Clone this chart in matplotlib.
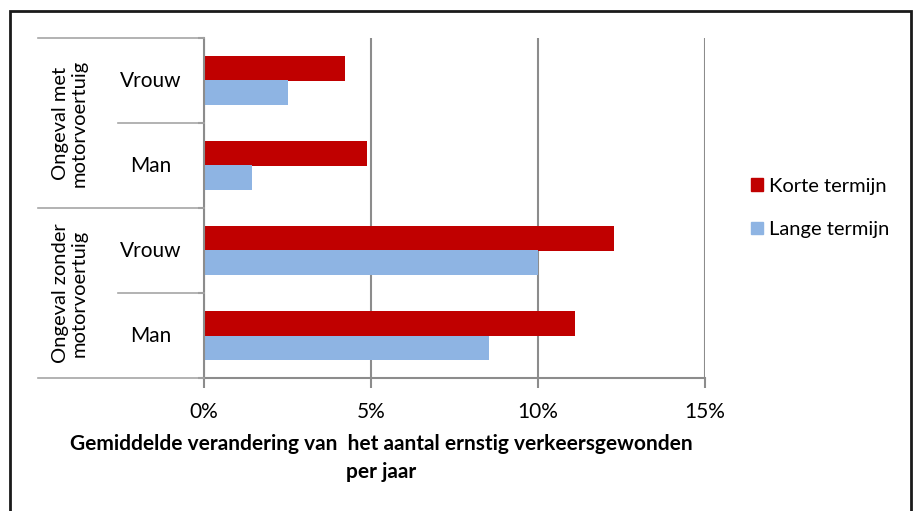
import matplotlib.pyplot as plt
import matplotlib.transforms as mtransforms
from matplotlib.lines import Line2D
from matplotlib.patches import Patch, Rectangle
import numpy as np

plt.rcParams['font.family'] = ['Lato', 'DejaVu Sans']

# categories from bottom to top
sexes = ['Man', 'Vrouw', 'Man', 'Vrouw']
groups = ['Ongeval zonder\nmotorvoertuig', 'Ongeval met\nmotorvoertuig']
korte = [11.1, 12.28, 4.87, 4.22]   # % per jaar, korte termijn
lange = [8.53, 10.0, 1.44, 2.52]    # % per jaar, lange termijn
xticks = [0, 5, 10, 15]
series_names = ['Korte termijn', 'Lange termijn']

RED = '#C00000'
BLUE = '#8EB4E3'
GRID = '#8C8C8C'

W, H = 914, 511
fig = plt.figure(figsize=(W / 100, H / 100), dpi=100)
ax = fig.add_axes([204 / W, (H - 378) / H, (705 - 204) / W, (378 - 38) / H])

y = np.arange(len(sexes))
bh = 0.29
ax.barh(y + bh / 2, korte, height=bh, color=RED, label=series_names[0])
ax.barh(y - bh / 2, lange, height=bh, color=BLUE, label=series_names[1])

ax.set_xlim(0, 15)
ax.set_ylim(-0.5, len(sexes) - 0.5)
ax.set_xticks(xticks)
ax.set_xticklabels(['%d%%' % t for t in xticks], fontsize=15)
ax.tick_params(axis='x', direction='out', length=7, width=1.5, color=GRID, pad=10)
ax.set_yticks(np.arange(len(sexes) + 1) - 0.5)
ax.set_yticklabels([])
ax.tick_params(axis='y', direction='out', length=4, width=1.5, color=GRID)
ax.grid(axis='x', color=GRID, lw=1.5)
ax.set_axisbelow(True)
for s in ['top', 'right']:
    ax.spines[s].set_visible(False)
for s in ['left', 'bottom']:
    ax.spines[s].set_color(GRID)
    ax.spines[s].set_linewidth(1.5)

# multi-level category labels left of the axis
tr = mtransforms.blended_transform_factory(fig.transFigure, ax.transData)
x_out, x_in, x_ax = 38 / W, 118 / W, 204 / W
for i in range(len(sexes) + 1):
    x0 = x_out if i % 2 == 0 else x_in
    fig.add_artist(Line2D([x0, x_ax], [i - 0.5, i - 0.5], transform=tr,
                          color='#A6A6A6', lw=1.2))
for i, s in enumerate(sexes):
    fig.text(151 / W, i, s, transform=tr, ha='center', va='center', fontsize=15)
for g, name in enumerate(groups):
    fig.text(70 / W, 2 * g + 0.5, name, transform=tr, rotation=90,
             ha='center', va='center', fontsize=14.5, linespacing=1.15)

fig.text(381 / W, 1 - 458 / H,
         'Gemiddelde verandering van  het aantal ernstig verkeersgewonden\nper jaar',
         ha='center', va='center', fontsize=15, fontweight='bold', linespacing=1.5)

handles = [Patch(color=RED), Patch(color=BLUE)]
fig.legend(handles, series_names, loc='center left',
           bbox_to_anchor=(733 / W, 1 - 208 / H), frameon=False, fontsize=14.5,
           handlelength=0.6, handleheight=0.6, handletextpad=0.3, labelspacing=1.3)

# outer frame
fig.add_artist(Rectangle((10 / W, -0.05), 901 / W, 1.05 - 11 / H,
                         transform=fig.transFigure, fill=False,
                         edgecolor='#1A1A1A', lw=2))

fig.savefig('out.png', dpi=100)
